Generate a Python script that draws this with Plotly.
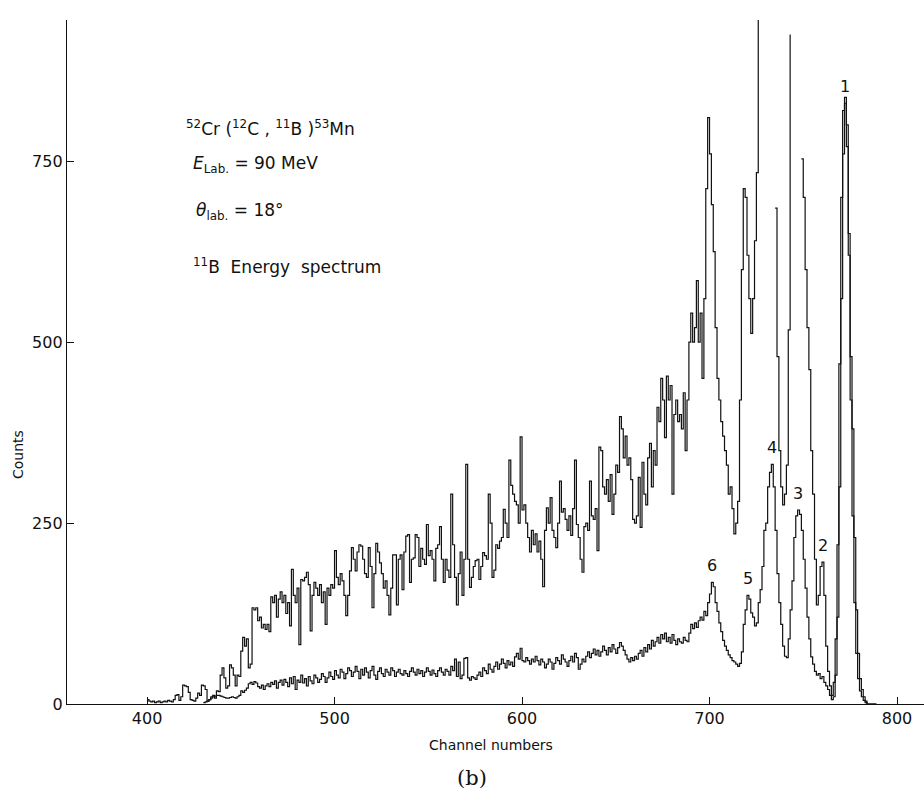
import plotly.graph_objects as go

# ---------------- data ----------------
UPPER_START = 400  # first channel of the expanded (upper) trace
upper_counts = [
    6, 4, 3, 4, 2, 3, 4, 2, 3, 4,
    3, 5, 4, 3, 6, 12, 13, 5, 10, 26,
    25, 24, 16, 6, 5, 4, 8, 15, 12, 26,
    25, 20, 4, 6, 10, 12, 8, 18, 17, 40,
    50, 36, 22, 25, 54, 50, 40, 25, 40, 38,
    73, 92, 80, 90, 50, 55, 133, 130, 133, 115,
    120, 105, 110, 103, 110, 100, 148, 140, 150, 120,
    145, 155, 140, 150, 125, 140, 108, 186, 150, 140,
    160, 82, 172, 170, 175, 182, 165, 101, 150, 168,
    160, 150, 165, 140, 155, 110, 160, 150, 165, 160,
    212, 175, 165, 180, 170, 150, 122, 150, 184, 216,
    200, 184, 210, 220, 218, 200, 180, 175, 216, 190,
    133, 180, 222, 210, 195, 180, 160, 170, 150, 123,
    160, 206, 206, 137, 200, 206, 158, 210, 232, 234,
    168, 200, 202, 234, 230, 190, 215, 200, 193, 248,
    205, 212, 200, 170, 215, 220, 245, 200, 168, 200,
    185, 175, 290, 220, 175, 137, 180, 210, 150, 200,
    331, 200, 161, 175, 190, 198, 200, 172, 190, 209,
    205, 200, 290, 250, 175, 185, 220, 215, 225, 230,
    269, 250, 230, 337, 302, 290, 280, 275, 250, 369,
    268, 275, 250, 230, 210, 240, 220, 235, 210, 225,
    200, 162, 240, 271, 250, 285, 240, 230, 216, 250,
    308, 265, 270, 255, 240, 260, 233, 270, 337, 248,
    230, 200, 182, 245, 250, 240, 308, 260, 255, 270,
    212, 355, 350, 300, 290, 310, 280, 317, 262, 290,
    330, 320, 397, 380, 340, 370, 330, 340, 310, 255,
    250, 260, 313, 244, 334, 290, 275, 340, 360, 300,
    350, 330, 410, 390, 450, 420, 368, 453, 420, 440,
    290, 400, 420, 390, 400, 380, 430, 350, 420, 500,
    540, 500, 520, 585, 500, 540, 450, 560, 712, 810,
    760, 690, 625, 520, 450, 420, 390, 370, 350, 330,
    290, 300, 270, 235, 250, 280, 420, 600, 712, 700,
    620, 560, 512, 560, 640, 734, 1000, None, None, None,
    None, None, None, None, None, 685, 480, 350, 300, 275,
    290, 330, 517, 925, None, None, None, None, None, 753,
    700, 600, 520, 462, 350, 290, 200, 137, 150, 190,
    196, 150, 80, 45, 25, 12, 30, 90, 220, 470,
    700, 820, 838, 770, 650, 480, 380, 230, 130, 70,
    35, 20, 10, 4, 0, 0, 0, 0, 0, 0,
]

LOWER_START = 430  # first channel of the normal (lower) trace
lower_counts = [
    2, 3, 4, 6, 8, 10, 11, 12, 12, 11,
    10, 9, 8, 8, 9, 10, 9, 8, 10, 12,
    18, 16, 19, 22, 28, 30, 27, 31, 29, 24,
    22, 26, 20, 25, 28, 24, 30, 27, 32, 22,
    30, 33, 26, 34, 30, 24, 36, 28, 38, 20,
    33, 30, 40, 29, 35, 25, 38, 32, 28, 40,
    36, 30, 34, 42, 38, 30, 36, 44, 38, 34,
    46, 40, 36, 48, 44, 35, 42, 50, 46, 38,
    44, 52, 45, 35, 48, 40, 50, 44, 36, 46,
    52, 40, 34, 45, 50, 42, 38, 48, 44, 40,
    50, 46, 38, 44, 48, 42, 40, 46, 42, 38,
    45, 50, 44, 40, 48, 42, 46, 38, 44, 50,
    45, 40, 47, 42, 38, 46, 50, 44, 40, 48,
    45, 40, 52, 46, 62, 38, 58, 35, 40, 63,
    64, 36, 33, 38, 36, 34, 40, 44, 38, 50,
    46, 42, 55, 48, 44, 52, 58, 48, 55, 62,
    56, 50, 60, 54, 58, 52, 65, 70, 62, 77,
    60, 58, 64, 60, 55, 62, 58, 66, 60, 54,
    62, 58, 50, 55, 62, 58, 48, 56, 64, 60,
    55, 68, 62, 58, 52, 60, 66, 58, 70, 64,
    48, 55, 62, 58, 66, 72, 64, 70, 76, 68,
    74, 66, 72, 80, 74, 68, 78, 72, 82, 76,
    70, 78, 85, 80, 74, 68, 62, 58, 64, 60,
    66, 62, 70, 74, 66, 78, 72, 82, 76, 88,
    80, 86, 92, 84, 96, 90, 98, 86, 92, 84,
    96, 88, 82, 90, 86, 84, 92, 88, 86, 98,
    110, 104, 112, 106, 115, 120, 116, 128, 122, 140,
    152, 168, 162, 140, 128, 112, 100, 88, 80, 74,
    68, 64, 60, 58, 55, 52, 56, 72, 110, 130,
    150, 145, 126, 120, 108, 112, 140, 158, 190, 240,
    250, 300, 320, 331, 300, 240, 180, 140, 110, 80,
    66, 64, 90, 130, 170, 230, 260, 268, 262, 240,
    200, 160, 120, 90, 65, 55, 45, 40, 42, 35,
    38, 30, 25, 20, 12, 6, 10, 40, 120, 300,
    560, 760, 830, 800, 620, 420, 260, 140, 70, 35,
    18, 10, 5, 2, 0, 0, 0, 0, 0, 0,
]

x_ticks = [400, 500, 600, 700, 800]
y_ticks = [0, 250, 500, 750]

peak_names = ["1", "2", "3", "4", "5", "6"]
peak_channels = [772, 760, 747, 733, 720, 701]
peak_series = ["lower", "upper", "lower", "lower", "lower", "lower"]

# ---------------- figure ----------------
W, H = 924, 797
ML, MR, MT, MB = 67, 0, 20, 93
X_RANGE = [357.3, 814.4]
Y_RANGE = [0, 945]
INK = "#111111"
FONT = "DejaVu Sans"

upper_ch = list(range(UPPER_START, UPPER_START + len(upper_counts)))
lower_ch = list(range(LOWER_START, LOWER_START + len(lower_counts)))

fig = go.Figure()
fig.add_trace(go.Scatter(x=upper_ch, y=upper_counts, mode="lines",
                         line=dict(shape="hv", color=INK, width=1.2),
                         connectgaps=False, hoverinfo="skip", showlegend=False))
fig.add_trace(go.Scatter(x=lower_ch, y=lower_counts, mode="lines",
                         line=dict(shape="hv", color=INK, width=1.2),
                         connectgaps=False, hoverinfo="skip", showlegend=False))

series = {"upper": (upper_ch, upper_counts), "lower": (lower_ch, lower_counts)}


def peak_top(name, ch):
    chs, vals = series[name]
    best = 0
    for c, v in zip(chs, vals):
        if v is not None and abs(c - ch) <= 1:
            best = max(best, v)
    return best


annotations = []
for lab, ch, s in zip(peak_names, peak_channels, peak_series):
    annotations.append(dict(x=ch + 0.3, y=peak_top(s, ch), xref="x", yref="y",
                            text=lab, showarrow=False, yanchor="bottom",
                            xanchor="center", yshift=5,
                            font=dict(family=FONT, size=16, color=INK)))

pw, ph = W - ML - MR, H - MT - MB


def px(xp, yp):
    return (xp - ML) / pw, (H - MB - yp) / ph


info_lines = [
    ("<sup>52</sup>Cr (<sup>12</sup>C , <sup>11</sup>B )<sup>53</sup>Mn", 184, 128),
    ("<i>E</i><sub>Lab.</sub> = 90 MeV", 191, 164),
    ("<i>θ</i><sub>lab.</sub> = 18°", 194, 211),
    ("<sup>11</sup>B\u00a0\u00a0Energy\u00a0\u00a0spectrum", 191, 266),
]
for txt, xpx, ypx in info_lines:
    xx, yy = px(xpx, ypx)
    annotations.append(dict(x=xx, y=yy, xref="paper", yref="paper", text=txt,
                            showarrow=False, xanchor="left", yanchor="middle",
                            font=dict(family=FONT, size=17, color=INK)))

xx, yy = px(18, 455)
annotations.append(dict(x=xx, y=yy, xref="paper", yref="paper", text="Counts",
                        textangle=-90, showarrow=False, xanchor="center", yanchor="middle",
                        font=dict(family=FONT, size=14, color=INK)))
xx, yy = px(491, 745)
annotations.append(dict(x=xx, y=yy, xref="paper", yref="paper", text="Channel numbers",
                        showarrow=False, xanchor="center", yanchor="middle",
                        font=dict(family=FONT, size=14, color=INK)))
xx, yy = px(472, 778)
annotations.append(dict(x=xx, y=yy, xref="paper", yref="paper", text="(b)",
                        showarrow=False, xanchor="center", yanchor="middle",
                        font=dict(family="DejaVu Serif", size=21, color=INK)))

fig.update_layout(
    width=W, height=H,
    margin=dict(l=ML, r=MR, t=MT, b=MB, pad=0),
    paper_bgcolor="white", plot_bgcolor="white",
    font=dict(family=FONT, color=INK),
    annotations=annotations,
    showlegend=False,
    xaxis=dict(range=X_RANGE, tickvals=x_ticks, ticktext=[str(v) for v in x_ticks],
               ticks="inside", ticklen=7, tickwidth=1.1, tickcolor=INK,
               showline=True, linecolor=INK, linewidth=1.3, showgrid=False,
               zeroline=False, automargin=False,
               tickfont=dict(family=FONT, size=16, color=INK)),
    yaxis=dict(range=Y_RANGE, tickvals=y_ticks, ticktext=[str(v) for v in y_ticks],
               ticks="inside", ticklen=7, tickwidth=1.1, tickcolor=INK,
               showline=True, linecolor=INK, linewidth=1.3, showgrid=False,
               zeroline=False, automargin=False,
               tickfont=dict(family=FONT, size=16, color=INK)),
)

fig.write_html("out.html")
